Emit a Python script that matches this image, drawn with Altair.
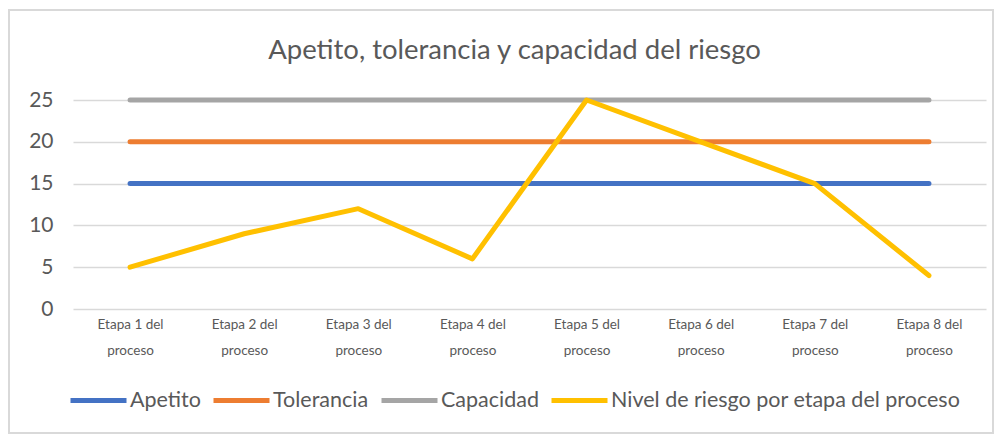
import altair as alt
import pandas as pd

categories = [f"Etapa {i} del proceso" for i in range(1, 9)]
series = ["Apetito", "Tolerancia", "Capacidad", "Nivel de riesgo por etapa del proceso"]
apetito = [15, 15, 15, 15, 15, 15, 15, 15]
tolerancia = [20, 20, 20, 20, 20, 20, 20, 20]
capacidad = [25, 25, 25, 25, 25, 25, 25, 25]
nivel = [5, 9, 12, 6, 25, 20, 15, 4]
colors = ["#4472C4", "#ED7D31", "#A5A5A5", "#FFC000"]

rows = []
for s_idx, (name, vals) in enumerate(zip(series, [apetito, tolerancia, capacidad, nivel])):
    for c_idx, (cat, v) in enumerate(zip(categories, vals)):
        rows.append({"Etapa": cat, "Serie": name, "Valor": v, "orden": s_idx, "pos": c_idx})
df = pd.DataFrame(rows)

FONT = "Lato"
GREY = "#595959"

lines = alt.Chart(df).mark_line(strokeWidth=5, strokeCap="round", strokeJoin="round").encode(
    x=alt.X("Etapa:N", sort=categories, scale=alt.Scale(type="point", padding=0.5),
            axis=alt.Axis(title=None, domain=False, ticks=False, labelPadding=8,
                          labelFontSize=13.5, labelColor=GREY, labelFont=FONT, labelAngle=0,
                          labelLineHeight=26, labelBaseline="top",
                          labelExpr="[replace(datum.value, ' proceso', ''), 'proceso']")),
    y=alt.Y("Valor:Q", scale=alt.Scale(domain=[0, 25], nice=False),
            axis=alt.Axis(title=None, values=[0, 5, 10, 15, 20, 25], domain=False, ticks=False,
                          labelPadding=20, labelFontSize=21, labelColor=GREY, labelFont=FONT,
                          gridColor="#d9d9d9", gridWidth=1.5)),
    color=alt.Color("Serie:N", sort=series, scale=alt.Scale(domain=series, range=colors),
                    legend=alt.Legend(title=None, orient="none", direction="horizontal",
                                      legendX=-5, legendY=270, symbolType="stroke",
                                      symbolSize=3136, symbolStrokeWidth=5, labelFontSize=21.5,
                                      labelColor=GREY, labelFont=FONT, labelOffset=1,
                                      labelLimit=600, columnPadding=2, padding=0)),
    order=alt.Order("pos:Q"),
    detail="orden:N",
)

border = alt.Chart(pd.DataFrame({"b": [0]})).mark_rect(
    fill=None, stroke="#d9d9d9", strokeWidth=2
).encode(x=alt.value(-64), x2=alt.value(920), y=alt.value(-90), y2=alt.value(333))

chart = alt.layer(border, lines).properties(
    width=913, height=209,
    title=alt.TitleParams("Apetito, tolerancia y capacidad del riesgo", fontSize=27.5,
                          font=FONT, color=GREY, fontWeight="normal", offset=-55, dx=-15),
    autosize=alt.AutoSizeParams(type="none"),
    padding={"left": 65, "top": 92, "right": 8, "bottom": 125},
).configure_view(stroke=None)

chart.save("out.html", embed_options={"renderer": "svg", "actions": False})
